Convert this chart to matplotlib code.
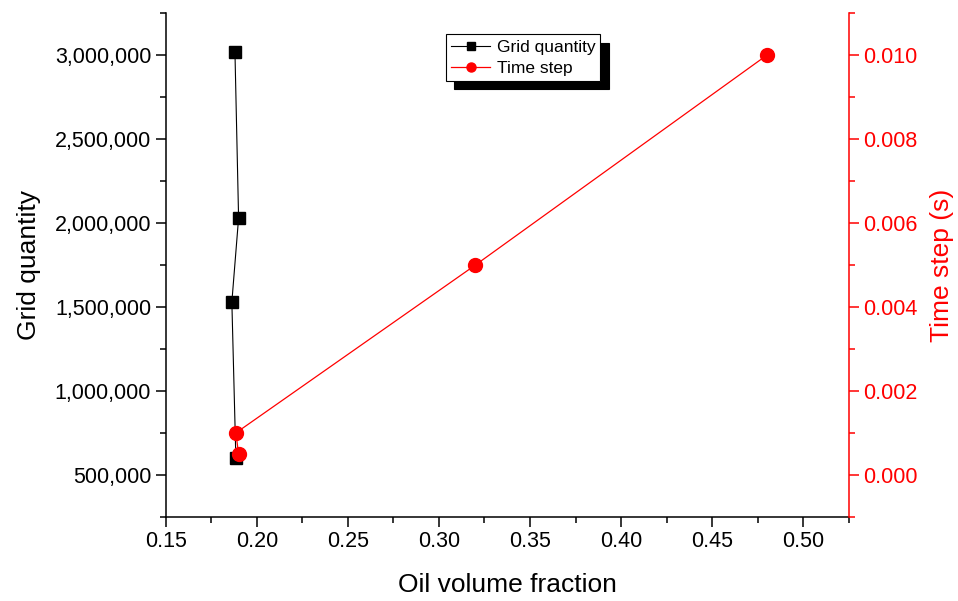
import matplotlib.pyplot as plt
from matplotlib.ticker import MultipleLocator, FuncFormatter

plt.rcParams['font.family'] = ['Liberation Sans', 'DejaVu Sans']

# grid independence data
grid_x = [0.188, 0.190, 0.1863, 0.1885]
grid_n = [3020000, 2030000, 1530000, 600000]

# time step independence data
step_x = [0.48, 0.32, 0.1885, 0.190]
step_t = [0.010, 0.005, 0.001, 0.0005]

fig = plt.figure(figsize=(9.58, 6.01), dpi=100)
ax = fig.add_axes([0.173, 0.140, 0.713, 0.838])
ax2 = ax.twinx()

l1, = ax.plot(grid_x, grid_n, color='black', lw=0.8, marker='s', ms=8,
              label='Grid quantity')
l2, = ax2.plot(step_x, step_t, color='red', lw=0.9, marker='o', ms=10,
               label='Time step')

ax.set_xlim(0.15, 0.525)
ax.set_ylim(250000, 3250000)
ax2.set_ylim(-0.001, 0.011)

ax.xaxis.set_major_locator(MultipleLocator(0.05))
ax.xaxis.set_minor_locator(MultipleLocator(0.025))
ax.xaxis.set_major_formatter(FuncFormatter(lambda v, p: f"{v:.2f}"))
ax.yaxis.set_major_locator(MultipleLocator(500000))
ax.yaxis.set_minor_locator(MultipleLocator(250000))
ax.yaxis.set_major_formatter(FuncFormatter(lambda v, p: f"{v:,.0f}"))
ax2.yaxis.set_major_locator(MultipleLocator(0.002))
ax2.yaxis.set_minor_locator(MultipleLocator(0.001))
ax2.yaxis.set_major_formatter(FuncFormatter(lambda v, p: f"{v:.3f}"))

for a in (ax, ax2):
    a.spines['top'].set_visible(False)
    for s in a.spines.values():
        s.set_linewidth(1.1)
ax.spines['right'].set_visible(False)
ax2.spines['left'].set_visible(False)
ax2.spines['bottom'].set_visible(False)
ax2.spines['right'].set_color('red')

ax.tick_params(which='major', direction='out', length=7, width=1.1, labelsize=15.5)
ax.tick_params(which='minor', direction='out', length=4, width=1.1)
ax2.tick_params(which='major', direction='out', length=7, width=1.1, labelsize=15.5,
                colors='red')
ax2.tick_params(which='minor', direction='out', length=4, width=1.1, colors='red')

ax.set_xlabel('Oil volume fraction', fontsize=19, labelpad=15)
ax.set_ylabel('Grid quantity', fontsize=19, labelpad=10)
ax2.set_ylabel('Time step (s)', fontsize=19, color='red', labelpad=9)

leg = ax2.legend([l1, l2], ['Grid quantity', 'Time step'], loc='upper left',
                 bbox_to_anchor=(0.398, 0.975), fontsize=12.5, frameon=True,
                 fancybox=False, handlelength=2.2, handletextpad=0.4,
                 borderpad=0.3, labelspacing=0.35, markerscale=0.65,
                 shadow={'color': 'black', 'alpha': 1, 'ox': 5.8, 'oy': -5.8})
leg.get_frame().set_edgecolor('black')
leg.get_frame().set_linewidth(0.8)

fig.savefig('out.png', dpi=100)
